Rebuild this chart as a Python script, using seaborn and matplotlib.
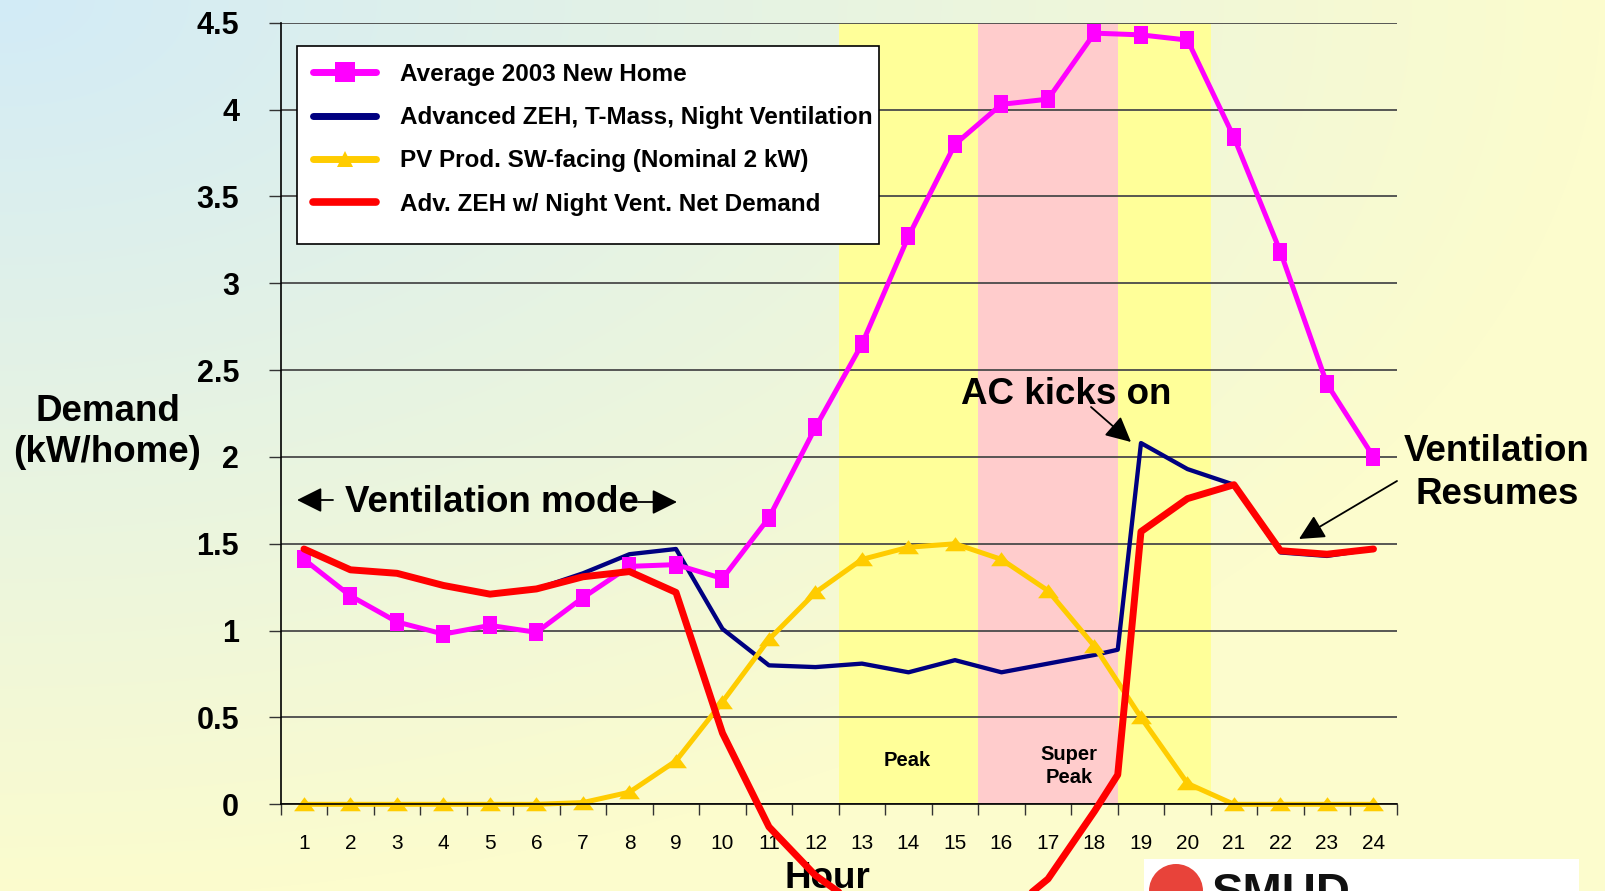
import numpy as np
import matplotlib
matplotlib.use("Agg")
import matplotlib.pyplot as plt
import seaborn as sns
from matplotlib.lines import Line2D
from matplotlib.patches import Rectangle, Ellipse

# data
hours = list(range(1, 25))
hours_zeh = list(range(1, 19)) + [18.5] + list(range(19, 25))
hour_labels = [str(h) for h in hours]

avg_home = [1.41, 1.20, 1.05, 0.98, 1.03, 0.99, 1.19, 1.37, 1.38, 1.30, 1.65, 2.17,
            2.65, 3.27, 3.80, 4.03, 4.06, 4.44, 4.43, 4.40, 3.84, 3.18, 2.42, 2.00]
pv_prod = [0, 0, 0, 0, 0, 0, 0.01, 0.07, 0.25, 0.59, 0.95, 1.22,
           1.41, 1.48, 1.50, 1.41, 1.23, 0.91, 0.50, 0.12, 0, 0, 0, 0]
adv_zeh = [1.47, 1.35, 1.33, 1.26, 1.21, 1.24, 1.33, 1.44, 1.47, 1.01, 0.80, 0.79,
           0.81, 0.76, 0.83, 0.76, 0.81, 0.86, 0.89, 2.08, 1.93, 1.84, 1.45, 1.43, 1.47]
net_demand = [1.47, 1.35, 1.33, 1.26, 1.21, 1.24, 1.31, 1.34, 1.22, 0.41, -0.13, -0.41,
              -0.60, -0.73, -0.68, -0.65, -0.43, -0.04, 0.17, 1.57, 1.76, 1.84, 1.46, 1.44, 1.47]

series_names = ["Average 2003 New Home",
                "Advanced ZEH, T-Mass, Night Ventilation",
                "PV Prod. SW-facing (Nominal 2 kW)",
                "Adv. ZEH w/ Night Vent. Net Demand"]

y_ticks = [0, 0.5, 1, 1.5, 2, 2.5, 3, 3.5, 4, 4.5]
y_tick_labels = ["0", "0.5", "1", "1.5", "2", "2.5", "3", "3.5", "4", "4.5"]

PINK = "#FF00FF"
NAVY = "#000080"
GOLD = "#FFCC00"
RED = "#FF0000"

sns.set_theme(style="white")
plt.rcParams["font.family"] = ["Liberation Sans", "DejaVu Sans"]
plt.rcParams["text.color"] = "black"
plt.rcParams["axes.labelcolor"] = "black"
plt.rcParams["xtick.color"] = "black"
plt.rcParams["ytick.color"] = "black"

W, H = 1606, 891
fig = plt.figure(figsize=(W / 100, H / 100), dpi=100)


def fpos(x, y):
    # pixel position (from top-left) -> figure fraction
    return x / W, 1 - y / H


# background gradient: light blue in top-left corner fading to pale yellow
bg = fig.add_axes([0, 0, 1, 1], zorder=-10)
yy, xx = np.mgrid[0:H, 0:W]
t = np.clip(np.sqrt((xx / 1600.0) ** 2 + (yy / 900.0) ** 2), 0, 1)[..., None]
c0 = np.array([210, 235, 247]) / 255.0
c1 = np.array([252, 252, 205]) / 255.0
bg.imshow(c0 * (1 - t) + c1 * t, extent=[0, 1, 0, 1], aspect="auto")
bg.axis("off")

ax = fig.add_axes([0.1748, 0.0973, 0.6949, 0.8772])
ax.patch.set_alpha(0)

# tariff periods
ax.axvspan(12.5, 15.5, color="#FFFF99", zorder=0.1, lw=0)
ax.axvspan(15.5, 18.5, color="#FFCCCC", zorder=0.1, lw=0)
ax.axvspan(18.5, 20.5, color="#FFFF99", zorder=0.1, lw=0)

rect_marker = [(-0.76, -1), (0.76, -1), (0.76, 1), (-0.76, 1), (-0.76, -1)]
tri_marker = [(-1, -0.65), (1, -0.65), (0, 0.7), (-1, -0.65)]

sns.lineplot(x=hours_zeh, y=adv_zeh, color=NAVY, lw=3.1, ax=ax, zorder=2.1)
sns.lineplot(x=hours, y=pv_prod, color=GOLD, lw=3.6, marker=tri_marker, markersize=15,
             markeredgewidth=0, ax=ax, zorder=2.2, clip_on=False)
sns.lineplot(x=hours, y=avg_home, color=PINK, lw=3.6, marker=rect_marker, markersize=13,
             markeredgewidth=0, ax=ax, zorder=2.3, clip_on=False)
sns.lineplot(x=hours_zeh, y=net_demand, color=RED, lw=5, ax=ax, zorder=3, clip_on=False)

ax.set_xlim(0.5, 24.5)
ax.set_ylim(0, 4.5)
ax.set_xticks(hours)
ax.set_xticklabels(hour_labels)
ax.set_xticks(np.arange(0.5, 25, 1), minor=True)
ax.set_yticks(y_ticks)
ax.set_yticklabels(y_tick_labels, fontweight="bold")

ax.tick_params(axis="x", which="major", length=0, pad=21.5, labelsize=15, labelcolor="black")
ax.tick_params(axis="x", which="minor", length=8, width=1, color="#333333", direction="out", bottom=True)
ax.tick_params(axis="y", which="major", length=9, width=1, color="#333333", direction="out",
               left=True, pad=21, labelsize=22, labelcolor="black")

ax.set_axisbelow(True)
ax.yaxis.grid(True, color="#4a4a4a", lw=1.3)
ax.xaxis.grid(False)
for side in ["top", "right"]:
    ax.spines[side].set_visible(False)
for side in ["left", "bottom"]:
    ax.spines[side].set_color("black")
    ax.spines[side].set_linewidth(1.2)

ax.set_xlabel("Hour", fontsize=26.5, fontweight="bold", color="black")
ax.xaxis.set_label_coords((827.6 - 280.8) / 1116, -0.072)
ax.set_ylabel("")

fig.text(*fpos(107.5, 432), "Demand\n(kW/home)", ha="center", va="center",
         fontsize=26.5, fontweight="bold", linespacing=1.22, color="black")

# legend: box drawn separately so it keeps the roomy bottom edge
ax.add_patch(Rectangle(fpos(297, 244), (879 - 297) / W, (244 - 45.7) / H,
                       transform=fig.transFigure, facecolor="white", edgecolor="black",
                       lw=1.2, zorder=4, clip_on=False))
handles = [
    Line2D([], [], color=PINK, lw=5, marker="s", markersize=14, markeredgewidth=0),
    Line2D([], [], color=NAVY, lw=5),
    Line2D([], [], color=GOLD, lw=5, marker="^", markersize=12, markeredgewidth=0),
    Line2D([], [], color=RED, lw=5.5),
]
leg = ax.legend(handles, series_names, loc="upper left", bbox_to_anchor=fpos(313, 63),
                bbox_transform=fig.transFigure, frameon=False,
                prop={"weight": "bold", "size": 17.5}, handlelength=2.6,
                handletextpad=1.0, labelspacing=0.83, borderpad=0, borderaxespad=0)
leg.set_zorder(5)
for txt in leg.get_texts():
    txt.set_color("black")

# period labels
ax.text(*fpos(907.5, 761), "Peak", transform=fig.transFigure, ha="center", va="center",
        fontsize=14.5, fontweight="bold")
ax.text(*fpos(1069, 766), "Super\nPeak", transform=fig.transFigure, ha="center", va="center",
        fontsize=14.5, fontweight="bold", linespacing=1.28)

# annotations
big = dict(fontsize=26.5, fontweight="bold", ha="center", va="center", color="black")
fig.text(*fpos(1066, 394), "AC kicks on", **big)
fig.text(*fpos(492, 503), "Ventilation mode", **big)
fig.text(*fpos(1497, 473), "Ventilation\nResumes", linespacing=1.32, **big)

arrow = dict(arrowstyle="-|>,head_length=0.7,head_width=0.35", color="black", lw=1.3,
             mutation_scale=22, shrinkA=0, shrinkB=0)
arrow_pairs = [((1091, 407), (1131, 442)),
               ((1397, 481), (1299, 539)),
               ((333, 500), (297, 500)),
               ((638, 502), (677, 502))]
for start, end in arrow_pairs:
    ax.annotate("", xy=fpos(*end), xycoords="figure fraction", xytext=fpos(*start),
                textcoords="figure fraction", arrowprops=arrow, annotation_clip=False)

# SMUD logo (cut off by the bottom edge)
fig.add_artist(Rectangle(fpos(1144, 905), 435 / W, 46 / H, transform=fig.transFigure,
                         facecolor="white", edgecolor="none", zorder=6))
fig.add_artist(Ellipse(fpos(1176, 891), 54 / W, 54 / H, transform=fig.transFigure,
                       facecolor="#E8433A", edgecolor="none", zorder=7))
fig.text(*fpos(1212, 872), "SMUD", ha="left", va="top", fontsize=34, fontweight="heavy",
         color="#111111", zorder=8)

fig.savefig("out.png", dpi=100)
